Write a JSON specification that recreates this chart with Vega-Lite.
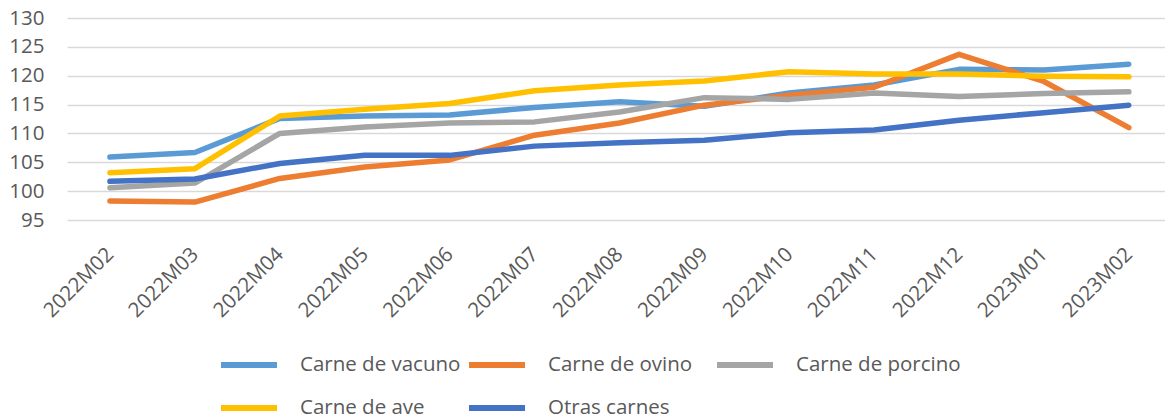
{
  "$schema": "https://vega.github.io/schema/vega-lite/v6.json",
  "width": 1098,
  "height": 202,
  "autosize": {"type": "none"},
  "padding": {"left": 67, "top": 18, "right": 0, "bottom": 199},
  "background": "#ffffff",
  "config": {
    "view": {"stroke": null},
    "font": "Open Sans",
    "axis": {"labelFont": "Open Sans", "labelColor": "#595959", "labelFontSize": 20.5}
  },
  "data": {
    "values": [
      {"mes": "2022M02", "serie": "Carne de vacuno", "valor": 105.9},
      {"mes": "2022M03", "serie": "Carne de vacuno", "valor": 106.7},
      {"mes": "2022M04", "serie": "Carne de vacuno", "valor": 112.6},
      {"mes": "2022M05", "serie": "Carne de vacuno", "valor": 113.0},
      {"mes": "2022M06", "serie": "Carne de vacuno", "valor": 113.2},
      {"mes": "2022M07", "serie": "Carne de vacuno", "valor": 114.5},
      {"mes": "2022M08", "serie": "Carne de vacuno", "valor": 115.5},
      {"mes": "2022M09", "serie": "Carne de vacuno", "valor": 114.7},
      {"mes": "2022M10", "serie": "Carne de vacuno", "valor": 117.0},
      {"mes": "2022M11", "serie": "Carne de vacuno", "valor": 118.4},
      {"mes": "2022M12", "serie": "Carne de vacuno", "valor": 121.1},
      {"mes": "2023M01", "serie": "Carne de vacuno", "valor": 121.0},
      {"mes": "2023M02", "serie": "Carne de vacuno", "valor": 122.0},
      {"mes": "2022M02", "serie": "Carne de ovino", "valor": 98.3},
      {"mes": "2022M03", "serie": "Carne de ovino", "valor": 98.1},
      {"mes": "2022M04", "serie": "Carne de ovino", "valor": 102.2},
      {"mes": "2022M05", "serie": "Carne de ovino", "valor": 104.2},
      {"mes": "2022M06", "serie": "Carne de ovino", "valor": 105.4},
      {"mes": "2022M07", "serie": "Carne de ovino", "valor": 109.7},
      {"mes": "2022M08", "serie": "Carne de ovino", "valor": 111.8},
      {"mes": "2022M09", "serie": "Carne de ovino", "valor": 114.9},
      {"mes": "2022M10", "serie": "Carne de ovino", "valor": 116.6},
      {"mes": "2022M11", "serie": "Carne de ovino", "valor": 118.0},
      {"mes": "2022M12", "serie": "Carne de ovino", "valor": 123.7},
      {"mes": "2023M01", "serie": "Carne de ovino", "valor": 119.0},
      {"mes": "2023M02", "serie": "Carne de ovino", "valor": 111.0},
      {"mes": "2022M02", "serie": "Carne de porcino", "valor": 100.6},
      {"mes": "2022M03", "serie": "Carne de porcino", "valor": 101.4},
      {"mes": "2022M04", "serie": "Carne de porcino", "valor": 110.0},
      {"mes": "2022M05", "serie": "Carne de porcino", "valor": 111.1},
      {"mes": "2022M06", "serie": "Carne de porcino", "valor": 111.8},
      {"mes": "2022M07", "serie": "Carne de porcino", "valor": 112.0},
      {"mes": "2022M08", "serie": "Carne de porcino", "valor": 113.7},
      {"mes": "2022M09", "serie": "Carne de porcino", "valor": 116.2},
      {"mes": "2022M10", "serie": "Carne de porcino", "valor": 115.9},
      {"mes": "2022M11", "serie": "Carne de porcino", "valor": 117.0},
      {"mes": "2022M12", "serie": "Carne de porcino", "valor": 116.4},
      {"mes": "2023M01", "serie": "Carne de porcino", "valor": 116.9},
      {"mes": "2023M02", "serie": "Carne de porcino", "valor": 117.2},
      {"mes": "2022M02", "serie": "Carne de ave", "valor": 103.2},
      {"mes": "2022M03", "serie": "Carne de ave", "valor": 103.9},
      {"mes": "2022M04", "serie": "Carne de ave", "valor": 113.0},
      {"mes": "2022M05", "serie": "Carne de ave", "valor": 114.2},
      {"mes": "2022M06", "serie": "Carne de ave", "valor": 115.2},
      {"mes": "2022M07", "serie": "Carne de ave", "valor": 117.4},
      {"mes": "2022M08", "serie": "Carne de ave", "valor": 118.4},
      {"mes": "2022M09", "serie": "Carne de ave", "valor": 119.1},
      {"mes": "2022M10", "serie": "Carne de ave", "valor": 120.7},
      {"mes": "2022M11", "serie": "Carne de ave", "valor": 120.3},
      {"mes": "2022M12", "serie": "Carne de ave", "valor": 120.3},
      {"mes": "2023M01", "serie": "Carne de ave", "valor": 119.9},
      {"mes": "2023M02", "serie": "Carne de ave", "valor": 119.8},
      {"mes": "2022M02", "serie": "Otras carnes", "valor": 101.7},
      {"mes": "2022M03", "serie": "Otras carnes", "valor": 102.1},
      {"mes": "2022M04", "serie": "Otras carnes", "valor": 104.8},
      {"mes": "2022M05", "serie": "Otras carnes", "valor": 106.2},
      {"mes": "2022M06", "serie": "Otras carnes", "valor": 106.2},
      {"mes": "2022M07", "serie": "Otras carnes", "valor": 107.8},
      {"mes": "2022M08", "serie": "Otras carnes", "valor": 108.4},
      {"mes": "2022M09", "serie": "Otras carnes", "valor": 108.8},
      {"mes": "2022M10", "serie": "Otras carnes", "valor": 110.1},
      {"mes": "2022M11", "serie": "Otras carnes", "valor": 110.6},
      {"mes": "2022M12", "serie": "Otras carnes", "valor": 112.3},
      {"mes": "2023M01", "serie": "Otras carnes", "valor": 113.6},
      {"mes": "2023M02", "serie": "Otras carnes", "valor": 114.9}
    ]
  },
  "mark": {"type": "line", "strokeWidth": 5.5, "strokeCap": "round", "strokeJoin": "round"},
  "encoding": {
    "x": {
      "field": "mes",
      "type": "ordinal",
      "sort": null,
      "scale": {"type": "point", "padding": 0.466, "align": 0.543},
      "axis": {
        "title": null,
        "domain": false,
        "ticks": false,
        "grid": false,
        "labelAngle": -45,
        "labelAlign": "right",
        "labelBaseline": "middle",
        "labelPadding": 31
      }
    },
    "y": {
      "field": "valor",
      "type": "quantitative",
      "scale": {"domain": [95, 130], "nice": false, "zero": false},
      "axis": {
        "title": null,
        "values": [95, 100, 105, 110, 115, 120, 125, 130],
        "domain": false,
        "ticks": false,
        "grid": true,
        "gridColor": "#D9D9D9",
        "gridWidth": 1.5,
        "labelPadding": 23
      }
    },
    "color": {
      "field": "serie",
      "type": "nominal",
      "scale": {
        "domain": ["Carne de vacuno", "Carne de ovino", "Carne de porcino", "Carne de ave", "Otras carnes"],
        "range": ["#5B9BD5", "#ED7D31", "#A5A5A5", "#FFC000", "#4472C4"]
      },
      "legend": {
        "title": null,
        "orient": "none",
        "legendX": 151,
        "legendY": 316,
        "direction": "horizontal",
        "columns": 3,
        "gridAlign": "all",
        "symbolType": "stroke",
        "symbolSize": 3136,
        "symbolStrokeWidth": 6,
        "labelOffset": 20,
        "columnPadding": -8,
        "rowPadding": -11,
        "labelFont": "Open Sans",
        "labelFontSize": 20.5,
        "labelColor": "#595959",
        "labelLimit": 400
      }
    }
  }
}
